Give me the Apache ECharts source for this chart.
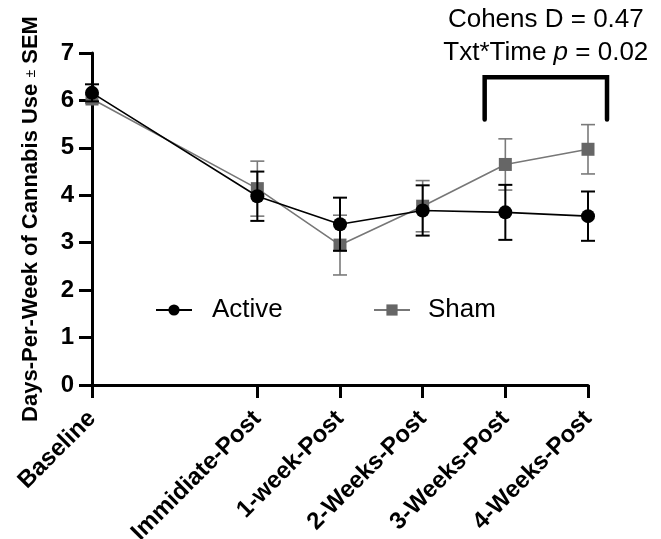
<!DOCTYPE html>
<html>
<head>
<meta charset="utf-8">
<script src="https://cdn.jsdelivr.net/npm/echarts@6/dist/echarts.min.js"></script>
<style>html,body{margin:0;padding:0;background:#fff}#c{width:661px;height:539px}</style>
</head>
<body>
<div id="c"></div>
<script>
const categories = ['Baseline','Immidiate-Post','1-week-Post','2-Weeks-Post','3-Weeks-Post','4-Weeks-Post'];
const xPositions = [0, 2, 3, 4, 5, 6];
const activeMean = [6.16, 3.98, 3.39, 3.68, 3.64, 3.56];
const activeSEM  = [0.18, 0.52, 0.56, 0.53, 0.58, 0.52];
const shamMean   = [6.03, 4.14, 2.95, 3.77, 4.65, 4.97];
const shamSEM    = [0.09, 0.58, 0.63, 0.54, 0.54, 0.52];
const yTicks = [0, 1, 2, 3, 4, 5, 6, 7];
const bracketX = [4.75, 6.23];
const bracketY = [5.6, 6.49];

const FONT = "'Liberation Sans', Arial, sans-serif";
const chart = echarts.init(document.getElementById('c'), null, {renderer: 'canvas'});

function errSeries(name, mean, sem, color, lw, z) {
  return {
    type: 'custom', name: name + ' err', z: z, silent: true,
    data: xPositions.map((x, i) => [x, mean[i] - sem[i], mean[i] + sem[i]]),
    encode: {x: 0, y: [1, 2]},
    renderItem: function (params, api) {
      const x = api.value(0), lo = api.value(1), hi = api.value(2);
      const a = api.coord([x, hi]), b = api.coord([x, lo]);
      const w = 7;
      const st = {stroke: color, lineWidth: lw};
      return {type: 'group', children: [
        {type: 'line', shape: {x1: a[0], y1: a[1], x2: b[0], y2: b[1]}, style: st},
        {type: 'line', shape: {x1: a[0] - w, y1: a[1], x2: a[0] + w, y2: a[1]}, style: st},
        {type: 'line', shape: {x1: b[0] - w, y1: b[1], x2: b[0] + w, y2: b[1]}, style: st}
      ]};
    }
  };
}

const option = {
  animation: false,
  textStyle: {fontFamily: FONT},
  grid: {left: 92, right: 73, top: 53, bottom: 154, containLabel: false, outerBoundsMode: 'none'},
  legend: [
    {left: 155, top: 297, padding: 0, itemWidth: 36, itemHeight: 14, data: ['Active'],
     textStyle: {fontSize: 26, color: '#000', fontFamily: FONT, padding: [0, 0, 0, 15]}},
    {left: 373, top: 297, padding: 0, itemWidth: 36, itemHeight: 14, data: ['Sham'],
     textStyle: {fontSize: 26, color: '#000', fontFamily: FONT, padding: [0, 0, 0, 13]}}
  ],
  xAxis: {
    type: 'value', min: 0, max: 6, interval: 1,
    splitLine: {show: false},
    axisLine: {show: true, lineStyle: {color: '#000', width: 3}},
    axisTick: {show: true, length: 13, lineStyle: {color: '#000', width: 3}, customValues: xPositions},
    axisLabel: {
      customValues: xPositions,
      rotate: 45, margin: 30, fontSize: 24, fontWeight: 'bold', color: '#000', fontFamily: FONT,
      formatter: function (v) { const i = xPositions.indexOf(v); return i >= 0 ? categories[i] : ''; }
    }
  },
  yAxis: {
    type: 'value', min: 0, max: 7, interval: 1,
    splitLine: {show: false},
    axisLine: {show: true, lineStyle: {color: '#000', width: 3}},
    axisTick: {show: true, length: 13, lineStyle: {color: '#000', width: 3}},
    axisLabel: {margin: 18, fontSize: 24, fontWeight: 'bold', color: '#000', fontFamily: FONT,
      formatter: function (v) { return yTicks.indexOf(v) >= 0 ? String(v) : ''; }},
    name: '{b|Days-Per-Week of Cannabis Use }{s|±}{b| SEM}',
    nameLocation: 'middle', nameGap: 50, nameRotate: 90,
    nameTextStyle: {
      rich: {
        b: {fontSize: 22, fontWeight: 'bold', color: '#000', fontFamily: FONT},
        s: {fontSize: 14, color: '#000', fontFamily: FONT}
      }
    }
  },
  series: [
    errSeries('Sham', shamMean, shamSEM, '#7a7a7a', 1.6, 2),
    {
      name: 'Sham', type: 'line', z: 3,
      data: xPositions.map((x, i) => [x, shamMean[i]]),
      symbol: 'rect', symbolSize: 13,
      itemStyle: {color: '#666666', borderWidth: 0},
      lineStyle: {color: '#777777', width: 1.6}
    },
    errSeries('Active', activeMean, activeSEM, '#000000', 2, 4),
    {
      name: 'Active', type: 'line', z: 5,
      data: xPositions.map((x, i) => [x, activeMean[i]]),
      symbol: 'circle', symbolSize: 14,
      itemStyle: {color: '#000000', borderWidth: 0},
      lineStyle: {color: '#000000', width: 1.6}
    },
    {
      name: 'bracket', type: 'custom', z: 6, clip: false, silent: true,
      data: [[bracketX[0], bracketY[0], bracketX[1], bracketY[1]]],
      encode: {x: [0, 2], y: [1, 3]},
      renderItem: function (params, api) {
        const x0 = api.value(0), y0 = api.value(1), x1 = api.value(2), y1 = api.value(3);
        const pts = [api.coord([x0, y0]), api.coord([x0, y1]), api.coord([x1, y1]), api.coord([x1, y0])];
        return {type: 'polyline', shape: {points: pts},
          style: {stroke: '#000', lineWidth: 4.5, lineCap: 'round', lineJoin: 'miter', fill: null}};
      }
    }
  ]
};
chart.setOption(option);

const c0 = chart.convertToPixel({gridIndex: 0}, [bracketX[0], bracketY[1]]);
const c1 = chart.convertToPixel({gridIndex: 0}, [bracketX[1], bracketY[1]]);
const cx = (c0[0] + c1[0]) / 2;
chart.setOption({graphic: [
  {id: 't1', type: 'text', x: cx, y: 20,
   style: {text: 'Cohens D = 0.47', fontSize: 26, fill: '#000', fontFamily: FONT, align: 'center', verticalAlign: 'middle'}},
  {id: 't2', type: 'text', x: cx, y: 53,
   style: {text: '{n|Txt*Time }{i|p}{n| = 0.02}', align: 'center', verticalAlign: 'middle',
     rich: {n: {fontSize: 26, fontFamily: FONT, fill: '#000'}, i: {fontSize: 26, fontStyle: 'italic', fontFamily: FONT, fill: '#000'}}}}
]});
</script>
</body>
</html>
